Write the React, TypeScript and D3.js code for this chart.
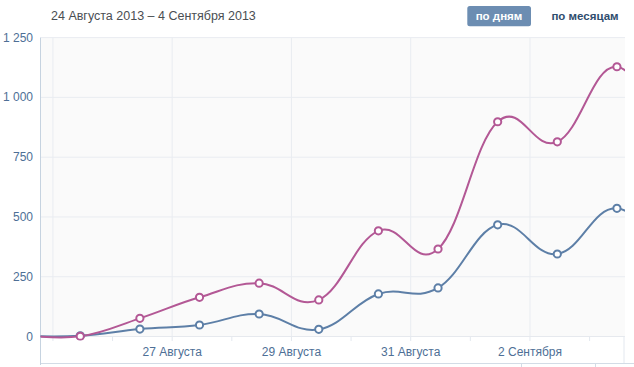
import React from "react";
import * as d3 from "d3";

// ---- data ----
const dates = [
  "2013-08-24T11:00", "2013-08-25T11:00", "2013-08-26T11:00", "2013-08-27T11:00",
  "2013-08-28T11:00", "2013-08-29T11:00", "2013-08-30T11:00", "2013-08-31T11:00",
  "2013-09-01T11:00", "2013-09-02T11:00", "2013-09-03T11:00", "2013-09-04T11:00",
];
const pinkValues = [8, 1, 76, 164, 223, 153, 442, 366, 898, 814, 1128, 760];
const blueValues = [3, 3, 31, 48, 94, 30, 178, 203, 467, 345, 536, 300];
const yTicks = [0, 250, 500, 750, 1000, 1250];
const xLabelDates = ["2013-08-27", "2013-08-29", "2013-08-31", "2013-09-02"];
const xLabelTexts = ["27 Августа", "29 Августа", "31 Августа", "2 Сентября"];
const title = "24 Августа 2013 – 4 Сентября 2013";
const buttonActive = "по дням";
const buttonInactive = "по месяцам";

const W = 634;
const H = 367;
const parseT = d3.utcParse("%Y-%m-%dT%H:%M");
const parseD = d3.utcParse("%Y-%m-%d");

const left = 40.5;
const right = 625;
const top = 37.6;
const zeroY = 336.5;

const locale = d3.formatLocale({ decimal: ",", thousands: "\u00a0", grouping: [3], currency: ["", ""] });
const fmt = locale.format(",d");

export default function App() {
  const x = d3
    .scaleUtc()
    .domain([parseT("2013-08-24T19:00")!, parseT("2013-09-03T14:15")!])
    .range([left, right]);
  const y = d3.scaleLinear().domain([0, 1250]).range([zeroY, top]);

  const dayTicks = d3.utcDay.range(parseD("2013-08-25")!, parseD("2013-09-04")!);
  const gridDays = dayTicks.filter((_, i) => i % 2 === 0);

  const pts = (vals: number[]) => dates.map((d, i) => ({ t: parseT(d)!, v: vals[i] }));
  const line = d3
    .line<{ t: Date; v: number }>()
    .x((d) => x(d.t))
    .y((d) => y(d.v))
    .curve(d3.curveCardinal.tension(-0.2));

  const series = [
    { vals: blueValues, color: "#5d7fa7" },
    { vals: pinkValues, color: "#b35895" },
  ];

  const font = "'Liberation Sans', Arial, sans-serif";

  return (
    <svg width={W} height={H} style={{ position: "absolute", left: 0, top: 0, background: "#fff" }}>
      <defs>
        <clipPath id="plotClip">
          <rect x={left} y={top - 10} width={right - left} height={zeroY - top + 14} />
        </clipPath>
      </defs>
      {/* header */}
      <text x={51} y={19.5} fontFamily={font} fontSize={12.5} fill="#4a4e53">
        {title}
      </text>
      <rect x={467.3} y={6} width={63.7} height={20.3} rx={2.5} fill="#6c8db2" />
      <text x={499} y={20} textAnchor="middle" fontFamily={font} fontSize={11.5} fontWeight="bold" fill="#fff">
        {buttonActive}
      </text>
      <text x={585} y={20} textAnchor="middle" fontFamily={font} fontSize={11.5} fontWeight="bold" fill="#2f4d6e">
        {buttonInactive}
      </text>

      {/* plot background */}
      <rect x={left} y={top} width={right - left} height={zeroY - top} fill="#fafafa" />
      {/* horizontal gridlines */}
      {yTicks.map((t) => (
        <line key={"h" + t} x1={left} x2={right} y1={y(t)} y2={y(t)} stroke="#e9ecf1" strokeWidth={1} />
      ))}
      {/* vertical gridlines */}
      {gridDays.map((d) => (
        <line key={"v" + d.toISOString()} x1={x(d)} x2={x(d)} y1={top} y2={zeroY} stroke="#e9ecf1" strokeWidth={1} />
      ))}
      {/* x axis ticks */}
      {dayTicks.map((d) => (
        <line key={"t" + d.toISOString()} x1={x(d)} x2={x(d)} y1={zeroY} y2={341} stroke="#e3e8ef" strokeWidth={1} />
      ))}
      {/* x-axis box */}
      <line x1={left} x2={right - 1} y1={zeroY} y2={zeroY} stroke="#e6e9ee" />
      <line x1={right - 1} x2={right - 1} y1={zeroY} y2={363} stroke="#e3e8ef" />
      <line x1={left} x2={W} y1={363.5} y2={363.5} stroke="#d3dce6" />
      <line x1={521.5} x2={521.5} y1={363.5} y2={H} stroke="#d3dce6" />
      <line x1={595.5} x2={595.5} y1={363.5} y2={H} stroke="#d3dce6" />
      {/* y axis line */}
      <line x1={left} x2={left} y1={top} y2={365} stroke="#c6d3e0" />

      {/* y labels */}
      {yTicks.map((t) => (
        <text key={"yl" + t} x={33} y={y(t) + 4} textAnchor="end" fontFamily={font} fontSize={12} fill="#4e6f96">
          {fmt(t)}
        </text>
      ))}
      {/* x labels */}
      {xLabelDates.map((d, i) => (
        <text key={"xl" + d} x={x(parseD(d)!)} y={356} textAnchor="middle" fontFamily={font} fontSize={12} fill="#4e6f96">
          {xLabelTexts[i]}
        </text>
      ))}

      {/* series */}
      <g clipPath="url(#plotClip)">
        {series.map((s, si) => (
          <g key={si}>
            <path d={line(pts(s.vals)) || ""} fill="none" stroke={s.color} strokeWidth={2} />
          </g>
        ))}
        {series.map((s, si) => (
          <g key={"m" + si}>
            {pts(s.vals).map((p, i) => (
              <circle key={i} cx={x(p.t)} cy={y(p.v)} r={3.6} fill="#fff" stroke={s.color} strokeWidth={2} />
            ))}
          </g>
        ))}
      </g>
    </svg>
  );
}
